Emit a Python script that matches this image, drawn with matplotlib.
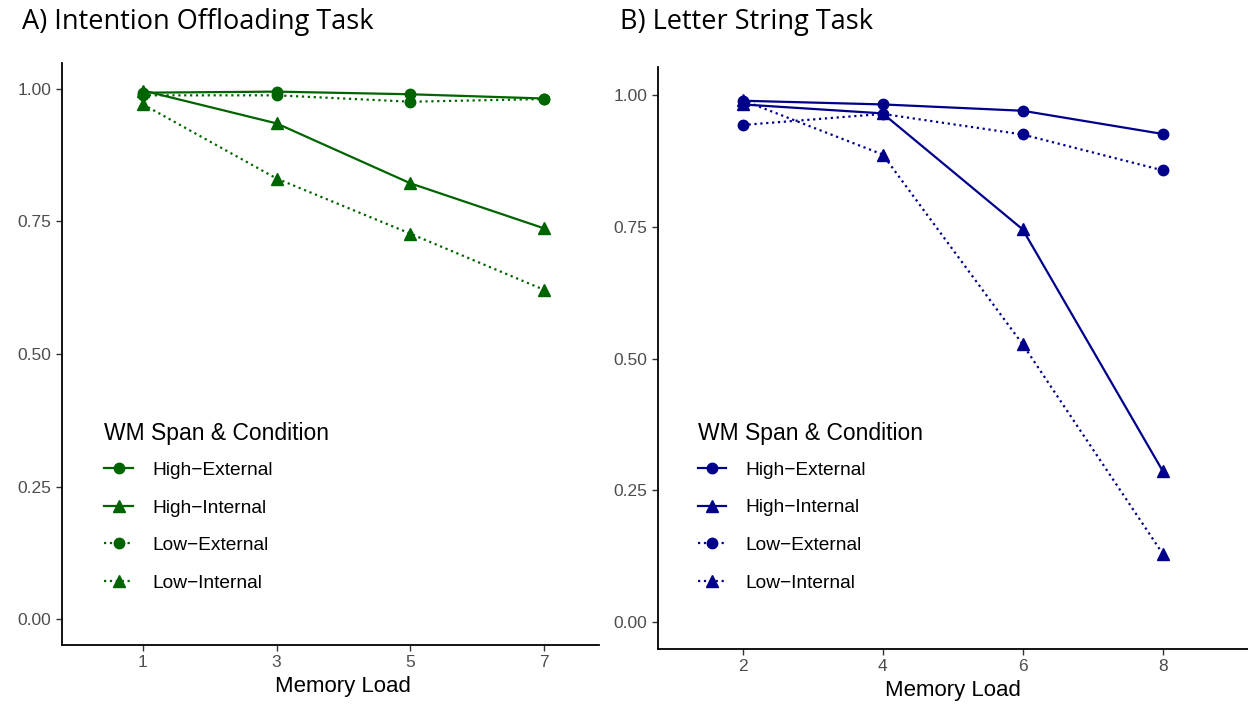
import matplotlib
matplotlib.use("Agg")
import matplotlib.pyplot as plt

# ---- data ----
loads_a = [1, 3, 5, 7]
high_ext_a = [0.993, 0.995, 0.990, 0.982]
high_int_a = [0.997, 0.935, 0.822, 0.737]
low_ext_a = [0.988, 0.988, 0.976, 0.981]
low_int_a = [0.971, 0.831, 0.727, 0.621]

loads_b = [2, 4, 6, 8]
high_ext_b = [0.989, 0.982, 0.970, 0.926]
high_int_b = [0.982, 0.965, 0.745, 0.287]
low_ext_b = [0.943, 0.964, 0.925, 0.857]
low_int_b = [0.990, 0.887, 0.527, 0.130]

series_names = ["High\u2212External", "High\u2212Internal", "Low\u2212External", "Low\u2212Internal"]
yticks = [0.00, 0.25, 0.50, 0.75, 1.00]
ytick_labels = ["0.00", "0.25", "0.50", "0.75", "1.00"]
titles = ["A) Intention Offloading Task", "B) Letter String Task"]
xlabel = "Memory Load"
legend_title = "WM Span & Condition"

W, H = 1248, 705
fig = plt.figure(figsize=(W / 100, H / 100), dpi=100)
plt.rcParams['font.family'] = ['Liberation Sans', 'DejaVu Sans']

def px_axes(x0, y0, x1, y1):
    return fig.add_axes([x0 / W, 1 - y1 / H, (x1 - x0) / W, (y1 - y0) / H])

ax_a = px_axes(62, 63, 599, 645)
ax_b = px_axes(658, 67, 1248, 649)

styles = [('-', 'o'), ('-', '^'), (':', 'o'), (':', '^')]

def draw(ax, x, ys, color, xlim, ylim, title, title_x, leg_anchor, xlabel_pos):
    for (ls, mk), y, name in zip(styles, ys, series_names):
        ax.plot(x, y, linestyle=ls, marker=mk, color=color, lw=1.6,
                markersize=7.5 if mk == 'o' else 8, label=name)
    ax.set_xlim(*xlim)
    ax.set_ylim(*ylim)
    ax.set_xticks(x)
    ax.set_xticklabels([str(v) for v in x])
    ax.set_yticks(yticks)
    ax.set_yticklabels(ytick_labels)
    ax.tick_params(axis='both', labelsize=12.5, labelcolor='#4D4D4D',
                   color='#333333', length=4, width=1)
    for s in ['top', 'right']:
        ax.spines[s].set_visible(False)
    for s in ['left', 'bottom']:
        ax.spines[s].set_linewidth(1.3)
        ax.spines[s].set_color('black')
    ax.set_xlabel(xlabel, fontsize=16)
    ax.xaxis.set_label_coords(*xlabel_pos)
    leg = ax.legend(title=legend_title, loc='upper left',
                    bbox_to_anchor=leg_anchor, frameon=False,
                    fontsize=13.8, title_fontsize=16.5, handlelength=1.5,
                    handletextpad=1.0, labelspacing=1.05, alignment='left')
    leg._legend_box.sep = 12
    fig.text(title_x / W, 1 - 22 / H, title, fontsize=19.5,
             family=['Open Sans', 'DejaVu Sans'], va='center', ha='left')

draw(ax_a, loads_a, [high_ext_a, high_int_a, low_ext_a, low_int_a], '#006400',
     (-0.21, 7.82), (-0.049, 1.049), titles[0], 22, (0.047, 0.413), (0.524, -0.054))
draw(ax_b, loads_b, [high_ext_b, high_int_b, low_ext_b, low_int_b], '#00008B',
     (0.79, 9.22), (-0.051, 1.053), titles[1], 620, (0.038, 0.42), (0.5, -0.053))

fig.savefig("out.png", dpi=100)
